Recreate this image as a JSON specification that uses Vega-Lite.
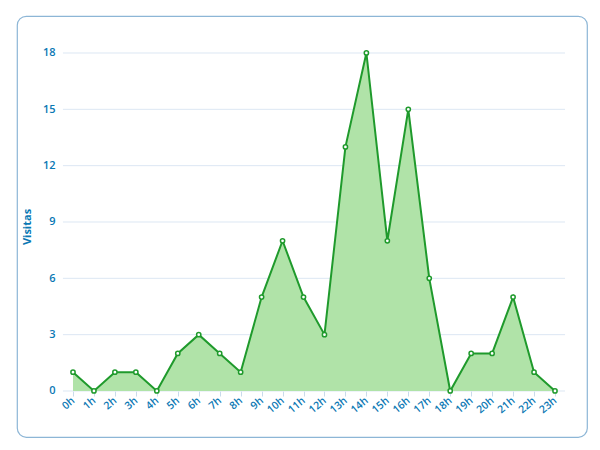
{
  "$schema": "https://vega.github.io/schema/vega-lite/v6.json",
  "width": 570,
  "height": 421,
  "padding": {"left": 17, "top": 16, "right": 13, "bottom": 13},
  "autosize": {"type": "none"},
  "background": "white",
  "config": {
    "view": {"stroke": "#8db6d6", "strokeWidth": 1.2, "cornerRadius": 9},
    "font": "Open Sans",
    "axisX": {"offset": -46, "domain": false, "grid": false, "ticks": true, "tickColor": "#c9dbeb", "tickSize": 5,
              "labelAngle": -40, "labelAlign": "right", "labelBaseline": "middle", "labelPadding": 3, "labelOverlap": false,
              "labelColor": "#0a78b4", "labelFontSize": 10.5, "labelFontWeight": 600}
  },
  "datasets": {
    "visits": [
      {"hour": 0, "visitas": 1}, {"hour": 1, "visitas": 0}, {"hour": 2, "visitas": 1},
      {"hour": 3, "visitas": 1}, {"hour": 4, "visitas": 0}, {"hour": 5, "visitas": 2},
      {"hour": 6, "visitas": 3}, {"hour": 7, "visitas": 2}, {"hour": 8, "visitas": 1},
      {"hour": 9, "visitas": 5}, {"hour": 10, "visitas": 8}, {"hour": 11, "visitas": 5},
      {"hour": 12, "visitas": 3}, {"hour": 13, "visitas": 13}, {"hour": 14, "visitas": 18},
      {"hour": 15, "visitas": 8}, {"hour": 16, "visitas": 15}, {"hour": 17, "visitas": 6},
      {"hour": 18, "visitas": 0}, {"hour": 19, "visitas": 2}, {"hour": 20, "visitas": 2},
      {"hour": 21, "visitas": 5}, {"hour": 22, "visitas": 1}, {"hour": 23, "visitas": 0}
    ],
    "grid": [{"v": 0}, {"v": 3}, {"v": 6}, {"v": 9}, {"v": 12}, {"v": 15}, {"v": 18}]
  },
  "layer": [
    {
      "data": {"name": "grid"},
      "mark": {"type": "rule", "color": "#dce7f3", "strokeWidth": 1},
      "encoding": {
        "y": {"field": "v", "type": "quantitative", "scale": {"domain": [-2.45, 19.97], "nice": false, "zero": false},
              "axis": {"values": [0, 3, 6, 9, 12, 15, 18], "offset": -40, "domain": false, "ticks": false, "grid": false,
                       "labelColor": "#0a78b4", "labelFontSize": 11, "labelFontWeight": 600, "labelPadding": 2,
                       "title": "Visitas", "titleColor": "#0a78b4", "titleFontSize": 11, "titleFontWeight": "bold", "titlePadding": 10}},
        "x": {"datum": -0.48, "type": "quantitative", "scale": {"domain": [-2.672, 24.527], "nice": false, "zero": false},
              "axis": {"values": [0,1,2,3,4,5,6,7,8,9,10,11,12,13,14,15,16,17,18,19,20,21,22,23], "labelExpr": "datum.value + 'h'", "title": null}},
        "x2": {"datum": 23.48}
      }
    },
    {
      "data": {"name": "visits"},
      "mark": {"type": "area", "color": "#b0e3a8", "opacity": 1},
      "encoding": {
        "x": {"field": "hour", "type": "quantitative",
              "axis": {"values": [0,1,2,3,4,5,6,7,8,9,10,11,12,13,14,15,16,17,18,19,20,21,22,23], "labelExpr": "datum.value + 'h'", "title": null}},
        "y": {"field": "visitas", "type": "quantitative"},
        "y2": {"datum": 0}
      }
    },
    {
      "data": {"name": "visits"},
      "mark": {"type": "line", "color": "#1f9a2c", "strokeWidth": 2},
      "encoding": {
        "x": {"field": "hour", "type": "quantitative",
              "axis": {"values": [0,1,2,3,4,5,6,7,8,9,10,11,12,13,14,15,16,17,18,19,20,21,22,23], "labelExpr": "datum.value + 'h'", "title": null}},
        "y": {"field": "visitas", "type": "quantitative"}
      }
    },
    {
      "data": {"name": "visits"},
      "mark": {"type": "point", "filled": true, "fill": "white", "stroke": "#1f9a2c", "strokeWidth": 1.5, "size": 18, "opacity": 1},
      "encoding": {
        "x": {"field": "hour", "type": "quantitative",
              "axis": {"values": [0,1,2,3,4,5,6,7,8,9,10,11,12,13,14,15,16,17,18,19,20,21,22,23], "labelExpr": "datum.value + 'h'", "title": null}},
        "y": {"field": "visitas", "type": "quantitative"}
      }
    }
  ]
}
